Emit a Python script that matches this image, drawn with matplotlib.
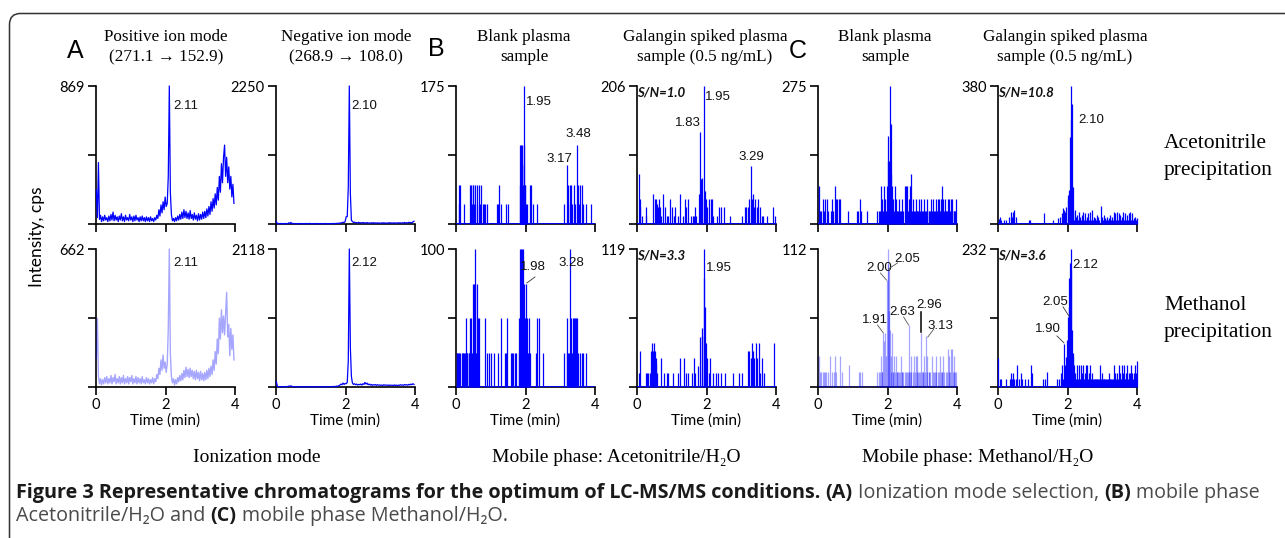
import numpy as np
import matplotlib
matplotlib.use("Agg")
import matplotlib.pyplot as plt
from matplotlib.patches import FancyBboxPatch
from matplotlib.transforms import IdentityTransform

# ---------------- data ----------------
# scan times (min) of the continuous traces in panel A
scan_t = [0.01, 0.04, 0.07, 0.10, 0.13, 0.16, 0.19, 0.22, 0.25, 0.28,
          0.31, 0.34, 0.37, 0.40, 0.43, 0.46, 0.49, 0.52, 0.55, 0.58,
          0.61, 0.64, 0.67, 0.70, 0.73, 0.76, 0.79, 0.82, 0.85, 0.88,
          0.91, 0.94, 0.97, 1.00, 1.03, 1.06, 1.09, 1.12, 1.15, 1.18,
          1.21, 1.24, 1.27, 1.30, 1.33, 1.36, 1.39, 1.42, 1.45, 1.48,
          1.51, 1.54, 1.57, 1.60, 1.63, 1.66, 1.69, 1.72, 1.75, 1.78,
          1.81, 1.84, 1.87, 1.90, 1.93, 1.96, 1.99, 2.02, 2.05, 2.08,
          2.11, 2.14, 2.17, 2.20, 2.23, 2.26, 2.29, 2.32, 2.35, 2.38,
          2.41, 2.44, 2.47, 2.50, 2.53, 2.56, 2.59, 2.62, 2.65, 2.68,
          2.71, 2.74, 2.77, 2.80, 2.83, 2.86, 2.89, 2.92, 2.95, 2.98,
          3.01, 3.04, 3.07, 3.10, 3.13, 3.16, 3.19, 3.22, 3.25, 3.28,
          3.31, 3.34, 3.37, 3.40, 3.43, 3.46, 3.49, 3.52, 3.55, 3.58,
          3.61, 3.64, 3.67, 3.70, 3.73, 3.76, 3.79, 3.82, 3.85, 3.88,
          3.91, 3.94, 3.97]

# A: positive ion mode, acetonitrile precipitation (cps)
a_pos_acn = [214, 40, 387, 30, 55, 15, 45, 20, 55, 25,
             40, 15, 50, 20, 60, 25, 75, 20, 55, 25,
             45, 15, 50, 25, 65, 20, 45, 15, 55, 25,
             40, 20, 60, 25, 45, 15, 50, 20, 55, 25,
             40, 15, 45, 20, 50, 20, 40, 15, 45, 20,
             40, 15, 45, 20, 35, 15, 40, 25, 55, 35,
             90, 50, 120, 70, 140, 90, 170, 110, 130, 300,
             869, 200, 60, 20, 35, 15, 40, 20, 50, 25,
             60, 30, 75, 35, 90, 40, 80, 35, 70, 30,
             85, 35, 60, 25, 70, 30, 55, 20, 65, 25,
             60, 30, 75, 35, 80, 40, 95, 50, 110, 60,
             140, 80, 160, 100, 190, 120, 230, 150, 300, 200,
             380, 260, 420, 497, 300, 420, 260, 360, 220, 300,
             170, 250, 130]
# A: positive ion mode, methanol precipitation
a_pos_meoh = [137, 329, 50, 15, 40, 10, 35, 15, 45, 20,
              50, 15, 40, 20, 55, 15, 45, 25, 60, 15,
              40, 20, 50, 15, 45, 20, 55, 15, 40, 20,
              50, 15, 45, 25, 55, 15, 40, 20, 50, 15,
              45, 20, 40, 15, 50, 20, 35, 15, 45, 20,
              40, 15, 35, 20, 45, 15, 40, 25, 60, 40,
              90, 60, 130, 80, 153, 90, 120, 70, 110, 280,
              662, 160, 50, 20, 40, 10, 35, 15, 45, 25,
              55, 30, 65, 35, 80, 45, 95, 50, 85, 45,
              90, 50, 80, 40, 75, 35, 80, 40, 70, 30,
              75, 35, 65, 30, 70, 35, 80, 40, 90, 50,
              100, 60, 130, 80, 170, 110, 230, 160, 330, 230,
              370, 260, 340, 250, 353, 454, 240, 300, 150, 281,
              180, 250, 130]
# A: negative ion mode, acetonitrile precipitation
a_neg_acn = [40, 5, 8, 4, 10, 5, 7, 3, 9, 6,
             8, 4, 20, 8, 25, 6, 10, 4, 8, 5,
             7, 3, 9, 5, 8, 4, 7, 5, 9, 4,
             8, 6, 10, 4, 7, 5, 8, 3, 9, 5,
             7, 4, 8, 5, 6, 4, 9, 5, 8, 4,
             7, 5, 8, 4, 9, 5, 10, 6, 12, 8,
             15, 10, 20, 18, 30, 25, 40, 119, 120, 600,
             2250, 500, 60, 40, 25, 30, 20, 25, 15, 28,
             18, 22, 14, 25, 16, 20, 12, 24, 15, 18,
             12, 20, 14, 22, 15, 18, 12, 20, 14, 16,
             12, 18, 15, 20, 14, 17, 12, 19, 15, 22,
             14, 18, 13, 20, 15, 17, 12, 22, 16, 19,
             14, 20, 15, 25, 18, 20, 16, 28, 20, 25,
             18, 35, 45]
# A: negative ion mode, methanol precipitation
a_neg_meoh = [82, 10, 5, 3, 6, 4, 5, 3, 6, 4,
              8, 5, 15, 10, 18, 8, 6, 4, 5, 3,
              4, 3, 5, 3, 4, 2, 5, 3, 4, 3,
              5, 3, 4, 2, 5, 3, 4, 3, 5, 3,
              4, 3, 5, 3, 4, 2, 5, 3, 4, 3,
              5, 4, 6, 4, 8, 5, 10, 6, 15, 10,
              20, 30, 45, 35, 60, 40, 55, 50, 70, 400,
              2118, 600, 158, 60, 40, 50, 35, 45, 30, 40,
              35, 45, 30, 50, 40, 70, 45, 60, 35, 45,
              30, 40, 25, 35, 30, 38, 25, 35, 28, 32,
              25, 30, 22, 35, 28, 30, 25, 32, 22, 30,
              25, 28, 20, 32, 24, 30, 22, 28, 25, 35,
              28, 32, 25, 38, 30, 35, 28, 40, 32, 45,
              35, 50, 40]

# B: mobile phase acetonitrile/H2O - blank plasma, acetonitrile precipitation
b_blank_acn_t = [0.08, 0.10, 0.11, 0.23,
                 0.40, 0.42, 0.45, 0.48, 0.50, 0.53, 0.56, 0.59, 0.61, 0.65, 0.69, 0.73, 0.77, 0.80, 0.84, 0.88,
                 1.17, 1.20, 1.24, 1.30, 1.44, 1.50,
                 1.84, 1.85, 1.86, 1.87, 1.88, 1.89, 1.90, 1.91, 1.92, 1.93, 1.95, 1.96, 1.97, 1.98, 1.99, 2.01, 2.03,
                 2.12, 2.17, 2.22, 2.33,
                 3.10, 3.19, 3.23, 3.27, 3.29, 3.32, 3.35, 3.39, 3.43, 3.48, 3.51, 3.54, 3.58, 3.62, 3.66, 3.75, 3.89]
b_blank_acn_h = [50, 25, 50, 25,
                 50, 50, 25, 50, 50, 25, 50, 50, 25, 50, 25, 50, 25, 25, 25, 25,
                 25, 25, 50, 25, 25, 25,
                 100, 50, 100, 75, 50, 100, 75, 75, 25, 50, 100, 175, 25, 50, 50, 25, 25,
                 50, 50, 25, 25,
                 25, 75, 50, 25, 50, 50, 25, 50, 25, 100, 50, 25, 50, 50, 25, 25, 25]
# B: blank plasma, methanol precipitation
b_blank_meoh_t = [0.02, 0.04, 0.07, 0.10, 0.11,
                  0.17, 0.19, 0.21, 0.23, 0.26, 0.28, 0.29, 0.31, 0.33, 0.36, 0.38, 0.40, 0.43, 0.44,
                  0.46, 0.48, 0.50, 0.52, 0.53, 0.55, 0.56, 0.58, 0.59, 0.61, 0.63, 0.64, 0.67,
                  0.83, 0.90, 0.95, 1.00, 1.09, 1.22, 1.29, 1.41, 1.44, 1.47, 1.57, 1.61, 1.65, 1.71, 1.74,
                  1.80, 1.82, 1.84, 1.86, 1.87, 1.89, 1.90, 1.91, 1.93, 1.94, 1.95, 1.97, 1.98, 2.00,
                  2.01, 2.03, 2.05, 2.07, 2.09, 2.11, 2.12,
                  2.30, 2.34, 2.39, 2.51,
                  3.10, 3.18, 3.20, 3.22, 3.25, 3.27, 3.30, 3.31, 3.33, 3.36, 3.37, 3.40, 3.41, 3.43,
                  3.45, 3.46, 3.49, 3.52, 3.56, 3.62, 3.66, 3.73]
b_blank_meoh_h = [25, 25, 25, 25, 25,
                  25, 25, 25, 25, 25, 25, 50, 25, 25, 25, 25, 50, 50, 25,
                  25, 25, 75, 25, 75, 100, 75, 25, 75, 25, 25, 50, 50,
                  50, 25, 25, 25, 25, 25, 50, 25, 25, 50, 25, 25, 25, 25, 25,
                  50, 25, 100, 25, 100, 100, 25, 75, 100, 25, 75, 25, 50, 25,
                  75, 50, 25, 25, 25, 50, 25,
                  25, 50, 50, 25,
                  25, 50, 25, 25, 25, 100, 50, 25, 25, 25, 50, 50, 25, 50,
                  25, 50, 50, 25, 25, 25, 25, 25]
# B: galangin spiked plasma, acetonitrile precipitation
b_spiked_acn_t = [0.05, 0.08, 0.10, 0.13, 0.25, 0.27, 0.46, 0.51, 0.56, 0.58, 0.61, 0.63, 0.67, 0.70,
                  0.75, 0.80, 0.85, 0.89, 0.96, 1.02, 1.06, 1.10, 1.18, 1.24, 1.33, 1.38, 1.42, 1.48,
                  1.54, 1.60, 1.64, 1.67, 1.71,
                  1.77, 1.80, 1.83, 1.86, 1.88, 1.92, 1.95, 1.98, 2.02, 2.06, 2.12, 2.15, 2.19, 2.29,
                  2.37, 2.42, 2.50, 2.67,
                  3.03, 3.11, 3.15, 3.19, 3.23, 3.27, 3.30, 3.33, 3.37, 3.40, 3.44, 3.49, 3.54, 3.59,
                  3.63, 3.73, 3.92, 3.97]
b_spiked_acn_h = [74, 37, 25, 12, 12, 25, 45, 37, 37, 30, 25, 37, 25, 12,
                  45, 25, 12, 12, 37, 25, 12, 25, 12, 45, 12, 37, 25, 37,
                  12, 12, 12, 25, 12,
                  45, 137, 67, 69, 37, 206, 50, 37, 25, 37, 37, 37, 12, 12,
                  25, 25, 25, 12,
                  12, 25, 25, 25, 37, 87, 37, 45, 25, 37, 25, 37, 25, 12,
                  12, 12, 25, 12]
# B: galangin spiked plasma, methanol precipitation
b_spiked_meoh_t = [0.05, 0.08, 0.25, 0.29, 0.32, 0.37, 0.41, 0.44, 0.46, 0.49, 0.52, 0.54, 0.56, 0.58,
                   0.70, 0.77, 0.85, 0.89, 1.04, 1.18, 1.25, 1.35, 1.42, 1.48, 1.57, 1.63, 1.67,
                   1.76, 1.81, 1.86, 1.88, 1.92, 1.94, 1.96, 1.98, 2.02, 2.06, 2.10, 2.19, 2.27, 2.34,
                   2.41, 2.53, 2.77, 2.94, 3.03,
                   3.20, 3.23, 3.27, 3.30, 3.33, 3.37, 3.42, 3.46, 3.50, 3.54, 3.59, 3.65, 3.94]
b_spiked_meoh_h = [12, 31, 12, 12, 12, 12, 31, 38, 31, 38, 31, 25, 20, 12,
                   25, 12, 12, 12, 12, 12, 25, 25, 12, 12, 12, 25, 12,
                   18, 43, 44, 51, 94, 119, 69, 38, 25, 12, 25, 12, 12, 12,
                   12, 12, 12, 12, 12,
                   31, 31, 25, 38, 31, 25, 38, 25, 38, 12, 25, 12, 38]

# C: mobile phase methanol/H2O - blank plasma, acetonitrile precipitation
c_blank_acn_t = [0.02, 0.05, 0.09, 0.13, 0.16, 0.21, 0.25, 0.28, 0.36, 0.40, 0.43, 0.48, 0.51, 0.55,
                 0.60, 0.63, 0.87, 1.13, 1.16, 1.20, 1.24, 1.40, 1.71, 1.75, 1.78,
                 1.82, 1.85, 1.88, 1.90, 1.94, 1.96, 1.98, 2.00, 2.02, 2.04,
                 2.07, 2.09, 2.11, 2.14, 2.17, 2.19, 2.21, 2.24, 2.26, 2.28,
                 2.31, 2.33, 2.36, 2.38, 2.41, 2.43, 2.46, 2.50, 2.53, 2.55,
                 2.57, 2.60, 2.62, 2.65, 2.67, 2.69, 2.71, 2.73, 2.77, 2.79,
                 2.81, 2.84, 2.86, 2.89, 2.91, 2.94, 2.96, 2.99,
                 3.01, 3.04, 3.06, 3.08, 3.10, 3.13, 3.15, 3.18, 3.20, 3.23,
                 3.25, 3.28, 3.30, 3.32, 3.34, 3.37, 3.39, 3.42, 3.44, 3.47,
                 3.49, 3.52, 3.54, 3.56, 3.58, 3.61, 3.63, 3.65, 3.67, 3.69,
                 3.71, 3.73, 3.76, 3.78, 3.81, 3.83, 3.85, 3.87, 3.90, 3.92,
                 3.95, 3.97]
c_blank_acn_h = [76, 25, 25, 50, 25, 50, 50, 25, 25, 50, 25, 76, 50, 50,
                 50, 50, 25, 25, 25, 50, 25, 25, 25, 25, 25,
                 76, 50, 25, 76, 50, 25, 76, 126, 176, 126,
                 275, 199, 99, 76, 50, 25, 76, 50, 25, 25,
                 25, 50, 25, 25, 25, 50, 25, 76, 76, 25,
                 76, 25, 50, 76, 25, 99, 25, 50, 25, 25,
                 50, 25, 25, 25, 50, 25, 50, 25,
                 25, 25, 50, 25, 25, 25, 50, 25, 25, 25,
                 50, 25, 50, 25, 25, 25, 50, 25, 50, 25,
                 50, 25, 50, 25, 76, 50, 25, 50, 25, 25,
                 25, 50, 25, 50, 25, 50, 25, 50, 25, 25,
                 25, 50]
# C: blank plasma, methanol precipitation
c_blank_meoh_t = [0.02, 0.05, 0.09, 0.13, 0.16, 0.20, 0.24, 0.28, 0.34, 0.40, 0.45, 0.48, 0.53,
                  0.63, 0.69, 0.89, 1.18, 1.22, 1.27, 1.71, 1.75, 1.78, 1.80, 1.83, 1.85,
                  1.88, 1.91, 1.94, 1.96, 1.98, 2.00, 2.01, 2.03, 2.05, 2.07,
                  2.09, 2.11, 2.12, 2.15, 2.17, 2.19, 2.22, 2.24, 2.26, 2.28,
                  2.31, 2.33, 2.36, 2.38, 2.41, 2.43, 2.46, 2.50, 2.53, 2.55,
                  2.58, 2.61, 2.63, 2.65, 2.67, 2.69, 2.72, 2.75, 2.78, 2.81,
                  2.84, 2.86, 2.89, 2.91, 2.94, 2.96, 2.99,
                  3.01, 3.03, 3.06, 3.09, 3.11, 3.13, 3.15, 3.18, 3.20, 3.23,
                  3.27, 3.30, 3.33, 3.36, 3.39, 3.41, 3.44, 3.47, 3.50, 3.53,
                  3.56, 3.58, 3.61, 3.64, 3.68, 3.70, 3.73, 3.76, 3.78, 3.81,
                  3.83, 3.86, 3.88, 3.90, 3.92, 3.94, 3.97]
c_blank_meoh_h = [25, 12, 12, 12, 12, 12, 12, 12, 25, 12, 12, 25, 12,
                  25, 12, 18, 12, 12, 12, 12, 12, 12, 25, 12, 12,
                  44, 37, 44, 25, 87, 100, 112, 95, 62, 46,
                  25, 12, 44, 12, 12, 25, 12, 25, 12, 12,
                  12, 12, 12, 25, 12, 12, 12, 12, 12, 12,
                  12, 50, 12, 12, 12, 25, 12, 25, 12, 25,
                  12, 25, 12, 12, 12, 44, 12,
                  12, 12, 25, 12, 41, 12, 25, 12, 12, 12,
                  25, 12, 12, 12, 25, 12, 12, 12, 25, 12,
                  12, 12, 25, 12, 12, 12, 31, 12, 25, 12,
                  31, 31, 12, 25, 12, 12, 12]
# C: galangin spiked plasma, acetonitrile precipitation
c_spiked_acn_t = [0.02, 0.05, 0.10, 0.16, 0.24, 0.32, 0.36, 0.40, 0.43, 0.47, 0.51, 0.90, 0.93, 1.32,
                  1.57, 1.73, 1.78, 1.83, 1.86, 1.90, 1.93, 1.96, 2.00, 2.02, 2.05, 2.07, 2.09, 2.11,
                  2.13, 2.15,
                  2.17, 2.19, 2.21, 2.23, 2.25, 2.27, 2.28, 2.30, 2.32, 2.34,
                  2.36, 2.38, 2.41, 2.43, 2.46, 2.48, 2.51, 2.53, 2.55, 2.58,
                  2.60, 2.62, 2.65, 2.67, 2.70, 2.72, 2.75, 2.77, 2.80, 2.82,
                  2.84, 2.87, 2.89, 2.92, 2.96, 2.99,
                  3.00, 3.02, 3.04, 3.06, 3.08, 3.11, 3.13, 3.16, 3.18, 3.21,
                  3.23, 3.26, 3.28, 3.31, 3.33, 3.35, 3.37, 3.40, 3.42, 3.45,
                  3.47, 3.50, 3.52, 3.55, 3.57, 3.59, 3.61, 3.64, 3.66, 3.69,
                  3.71, 3.74, 3.76, 3.79, 3.81, 3.84, 3.86, 3.88, 3.90, 3.93,
                  3.95, 3.98, 4.00]
c_spiked_acn_h = [14, 20, 11, 11, 11, 20, 34, 20, 34, 38, 20, 11, 11, 29,
                  11, 16, 20, 29, 43, 38, 34, 48, 66, 80, 93, 240, 286, 380,
                  331, 103,
                  34, 12, 38, 12, 20, 12, 25, 12, 34, 12,
                  20, 12, 25, 12, 34, 12, 29, 12, 20, 12,
                  29, 12, 34, 12, 38, 12, 20, 12, 16, 12,
                  25, 12, 20, 12, 49, 12,
                  20, 12, 25, 12, 16, 12, 20, 12, 16, 12,
                  25, 12, 20, 12, 34, 12, 29, 12, 34, 12,
                  29, 12, 25, 12, 20, 12, 34, 12, 29, 12,
                  25, 12, 29, 12, 34, 12, 29, 12, 16, 12,
                  20, 12, 16]
# C: galangin spiked plasma, methanol precipitation
c_spiked_meoh_t = [0.01, 0.05, 0.10, 0.22, 0.34, 0.37, 0.40, 0.43, 0.47, 0.51, 0.55, 0.61, 0.65,
                   0.70, 0.77, 0.87, 0.95, 0.99, 1.30, 1.35, 1.40, 1.69, 1.76, 1.80, 1.83, 1.86,
                   1.90, 1.93, 1.96, 1.98, 2.00, 2.03, 2.05, 2.07, 2.09, 2.11,
                   2.13, 2.15, 2.17, 2.20, 2.22, 2.24, 2.27, 2.30, 2.32, 2.34,
                   2.36, 2.38, 2.40, 2.42, 2.44, 2.46, 2.48, 2.50, 2.53, 2.55,
                   2.57, 2.59, 2.61, 2.63, 2.65, 2.68, 2.70, 2.72, 2.75, 2.78,
                   2.80, 2.82, 2.84, 2.86, 2.89, 2.92, 2.94, 2.97, 2.99,
                   3.01, 3.04, 3.06, 3.08, 3.11, 3.13, 3.16, 3.18, 3.21, 3.23,
                   3.26, 3.28, 3.31, 3.33, 3.35, 3.37, 3.40, 3.42, 3.45, 3.47,
                   3.50, 3.52, 3.55, 3.57, 3.60, 3.63, 3.65, 3.67, 3.69, 3.71,
                   3.74, 3.76, 3.79, 3.81, 3.83, 3.86, 3.88, 3.90, 3.93, 3.96,
                   3.99]
c_spiked_meoh_h = [49, 13, 13, 13, 13, 23, 13, 23, 13, 13, 37, 13, 23,
                   13, 13, 13, 37, 23, 13, 13, 26, 13, 13, 23, 37, 13,
                   73, 37, 51, 79, 118, 135, 183, 208, 232, 197,
                   96, 51, 57, 37, 23, 13, 37, 13, 13, 37,
                   13, 37, 13, 23, 13, 37, 13, 23, 37, 13,
                   37, 13, 23, 13, 37, 13, 23, 13, 13, 13,
                   13, 13, 13, 13, 13, 13, 37, 13, 23,
                   13, 13, 13, 13, 13, 13, 13, 23, 13, 13,
                   13, 13, 13, 37, 13, 23, 13, 23, 13, 37,
                   13, 23, 13, 37, 23, 37, 13, 23, 13, 37,
                   13, 23, 23, 13, 37, 23, 13, 23, 37, 23,
                   44]

ymax_acn = [869, 2250, 175, 206, 275, 380]
ymax_meoh = [662, 2118, 100, 119, 112, 232]
x_ticks = [0, 2, 4]

col_titles = [("Positive ion mode", "(271.1 \u2192 152.9)"),
              ("Negative ion mode", "(268.9 \u2192 108.0)"),
              ("Blank plasma", "sample"),
              ("Galangin spiked plasma", "sample (0.5 ng/mL)"),
              ("Blank plasma", "sample"),
              ("Galangin spiked plasma", "sample (0.5 ng/mL)")]
group_labels = ["Ionization mode", "Mobile phase: Acetonitrile/H\u2082O",
                "Mobile phase: Methanol/H\u2082O"]
row_labels = [("Acetonitrile", "precipitation"), ("Methanol", "precipitation")]

# ---------------- figure ----------------
W, H = 1285, 538
SANS = ['Lato', 'DejaVu Sans']
SERIF = ['Liberation Serif', 'DejaVu Serif']
NARROW = ['Liberation Sans Narrow', 'Liberation Sans', 'DejaVu Sans']
ARIAL = ['Liberation Sans', 'DejaVu Sans']
CAP = ['Open Sans', 'DejaVu Sans']
plt.rcParams['font.family'] = SANS
BLUE = '#0000ff'

fig = plt.figure(figsize=(W / 100, H / 100), dpi=100)
fig.patch.set_facecolor('white')


def fxy(x, y):
    return x / W, 1 - y / H


COL_LEFT = [96, 276, 456, 637, 818, 998]
ROW_TOP = [86, 249]
AX_W, AX_H = 139, 138

line_series = {(0, 0): a_pos_acn, (1, 0): a_pos_meoh, (0, 1): a_neg_acn, (1, 1): a_neg_meoh}
spike_series = {(0, 2): (b_blank_acn_t, b_blank_acn_h), (1, 2): (b_blank_meoh_t, b_blank_meoh_h),
                (0, 3): (b_spiked_acn_t, b_spiked_acn_h), (1, 3): (b_spiked_meoh_t, b_spiked_meoh_h),
                (0, 4): (c_blank_acn_t, c_blank_acn_h), (1, 4): (c_blank_meoh_t, c_blank_meoh_h),
                (0, 5): (c_spiked_acn_t, c_spiked_acn_h), (1, 5): (c_spiked_meoh_t, c_spiked_meoh_h)}
faint = {(1, 0), (1, 4)}

# annotations: (text, fx, fy) in axes fraction
peak_labels = {
    (0, 0): [("2.11", 0.647, 0.855)],
    (0, 1): [("2.10", 0.633, 0.855)],
    (1, 0): [("2.11", 0.647, 0.899)],
    (1, 1): [("2.12", 0.633, 0.899)],
    (0, 2): [("1.95", 0.597, 0.884), ("3.48", 0.878, 0.652), ("3.17", 0.741, 0.471)],
    (0, 3): [("1.95", 0.583, 0.92), ("1.83", 0.367, 0.732), ("3.29", 0.82, 0.486)],
    (1, 2): [("1.98", 0.554, 0.87), ("3.28", 0.827, 0.899)],
    (1, 3): [("1.95", 0.59, 0.862)],
    (0, 5): [("2.10", 0.669, 0.754)],
    (1, 4): [("2.00", 0.442, 0.862), ("2.05", 0.645, 0.928), ("1.91", 0.413, 0.486),
             ("2.63", 0.609, 0.543), ("2.96", 0.797, 0.594), ("3.13", 0.884, 0.442)],
    (1, 5): [("2.12", 0.626, 0.884), ("2.05", 0.41, 0.616), ("1.90", 0.36, 0.42)],
}
leaders = {
    (1, 2): [((0.568, 0.51), (0.797, 0.754), '#333333', 0.6)],
    (1, 4): [((0.449, 0.493), (0.826, 0.775), '#555555', 0.6),
             ((0.572, 0.507), (0.899, 0.855), '#555555', 0.6),
             ((0.428, 0.471), (0.449, 0.391), '#555555', 0.6),
             ((0.616, 0.652), (0.507, 0.449), '#555555', 0.6),
             ((0.739, 0.739), (0.543, 0.399), '#000000', 1.1),
             ((0.833, 0.79), (0.42, 0.362), '#555555', 0.6)],
    (1, 5): [((0.468, 0.511), (0.58, 0.514), '#333333', 0.6),
             ((0.424, 0.475), (0.37, 0.319), '#333333', 0.6)],
}
sn_labels = {(0, 3): "S/N=1.0", (1, 3): "S/N=3.3", (0, 5): "S/N=10.8", (1, 5): "S/N=3.6"}

for row in range(2):
    ymaxs = ymax_acn if row == 0 else ymax_meoh
    for col in range(6):
        left = COL_LEFT[col]
        top = ROW_TOP[row]
        ax = fig.add_axes([left / W, 1 - (top + AX_H) / H, AX_W / W, AX_H / H])
        ymax = ymaxs[col]
        ax.set_xlim(0, 4)
        ax.set_ylim(0, ymax)
        ax.patch.set_alpha(0)
        for s in ('top', 'right'):
            ax.spines[s].set_visible(False)
        for s in ('left', 'bottom'):
            ax.spines[s].set_linewidth(1.2)
            ax.spines[s].set_color('black')
        ax.set_xticks(x_ticks)
        ax.set_yticks([0, ymax / 2, ymax])
        ax.set_yticklabels(['', '', str(ymax)])
        ax.tick_params(direction='out', length=6, width=1.2, labelsize=10.5, pad=2,
                       colors='black')
        if row == 0:
            ax.set_xticklabels([])
        else:
            ax.set_xticklabels([str(v) for v in x_ticks])
            ax.set_xlabel('Time (min)', fontsize=11, labelpad=1)

        key = (row, col)
        is_faint = key in faint
        if key in line_series:
            ax.plot(scan_t, line_series[key], color=BLUE, lw=0.9 if not is_faint else 1.0,
                    alpha=0.35 if is_faint else 1.0, clip_on=False, zorder=3)
        else:
            t, h = spike_series[key]
            ax.axhline(0, color=BLUE, lw=1.3, alpha=0.35 if is_faint else 1.0, zorder=3)
            ax.vlines(t, 0, h, colors=BLUE, lw=0.9, alpha=0.35 if is_faint else 1.0,
                      clip_on=False, zorder=3)

        for txt, px, py in peak_labels.get(key, []):
            ax.text(px, py, txt, transform=ax.transAxes, ha='center', va='center',
                    fontsize=9.5, family=NARROW, color='#111111', zorder=5)
        for (xs, ys, c, lw) in leaders.get(key, []):
            ax.plot(xs, ys, transform=ax.transAxes, color=c, lw=lw, clip_on=False, zorder=5)
        if key in sn_labels:
            ax.text(0.0, 0.955, sn_labels[key], transform=ax.transAxes, ha='left', va='center',
                    fontsize=9.5, fontweight='bold', fontstyle='italic', color='#111111', zorder=5)

# column titles
title_x = [166, 346, 524, 705, 885, 1065]
for (l1, l2), cx in zip(col_titles, title_x):
    fig.text(*fxy(cx, 37), l1, ha='center', va='center', fontsize=12.3, family=SERIF)
    fig.text(*fxy(cx, 57), l2, ha='center', va='center', fontsize=12.3, family=SERIF)

# panel letters
for letter, (x, y) in zip("ABC", [(75, 51), (436, 49), (798, 51)]):
    fig.text(*fxy(x, y), letter, ha='center', va='center', fontsize=18, family=ARIAL)

# row labels
for (l1, l2), (y1, y2) in zip(row_labels, [(143, 170), (306, 332)]):
    fig.text(*fxy(1164, y1), l1, ha='left', va='center', fontsize=15.5, family=SERIF)
    fig.text(*fxy(1164, y2), l2, ha='left', va='center', fontsize=15.5, family=SERIF)

# group labels
for lab, cx in zip(group_labels, [257, 616, 978]):
    fig.text(*fxy(cx, 458), lab, ha='center', va='center', fontsize=14, family=SERIF)

# y label
fig.text(*fxy(37, 237), "Intensity, cps", rotation=90, ha='center', va='center', fontsize=12.5)

# frame
frame = FancyBboxPatch((9.5, -30), 1310, 538 - 13.5 + 30,
                       boxstyle="round,pad=0,rounding_size=11",
                       transform=IdentityTransform(), fill=False,
                       edgecolor='#333333', lw=1.1)
fig.patches.append(frame)

# caption
renderer = fig.canvas.get_renderer()
DARK, GREY = '#1a1a1a', '#4a4a4a'
line1 = [("Figure 3 Representative chromatograms for the optimum of LC-MS/MS conditions.", 'bold', DARK),
         ("(A)", 'bold', DARK), ("Ionization mode selection,", 'normal', GREY),
         ("(B)", 'bold', DARK), ("mobile phase", 'normal', GREY)]
line2 = [("Acetonitrile/H\u2082O and", 'normal', GREY), ("(C)", 'bold', DARK),
         ("mobile phase Methanol/H\u2082O.", 'normal', GREY)]


def text_w(s, size, weight):
    t = fig.text(0, 0, s, fontsize=size, fontweight=weight, family=CAP)
    w = t.get_window_extent(renderer=renderer).width
    t.remove()
    return w


def space_w(size):
    return text_w("a a", size, 'normal') - text_w("aa", size, 'normal')


def runs_w(runs, size):
    return sum(text_w(s, size, w) for s, w, c in runs) + space_w(size) * (len(runs) - 1)


cap_size = 10 * (1263 - 16) / runs_w(line1, 10)


def draw_runs(runs, x0, ybase, size):
    x = x0
    sp = space_w(size)
    for s, w, c in runs:
        t = fig.text(*fxy(x, ybase), s, fontsize=size, fontweight=w, color=c, family=CAP,
                     ha='left', va='baseline')
        x += t.get_window_extent(renderer=renderer).width + sp


draw_runs(line1, 16, 498, cap_size)
draw_runs(line2, 16, 521, cap_size)

fig.savefig("out.png", dpi=100, facecolor='white')
